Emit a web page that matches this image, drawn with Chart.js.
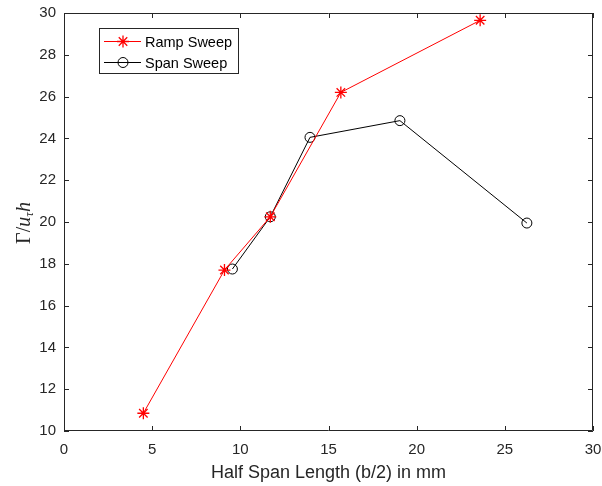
<!DOCTYPE html>
<html>
<head>
<meta charset="utf-8">
<script src="https://cdn.jsdelivr.net/npm/chart.js@4.4.0/dist/chart.umd.min.js"></script>
<style>
  html, body { margin: 0; padding: 0; background: #fff; }
  #wrap { width: 602px; height: 486px; position: relative; }
</style>
</head>
<body>
<div id="wrap"><canvas id="myChart"></canvas></div>
<script>
// données
const rampX = [4.5, 9.1, 11.7, 15.7, 23.6];
const rampY = [10.85, 17.7, 20.25, 26.2, 29.65];
const spanX = [9.55, 11.7, 13.95, 19.05, 26.25];
const spanY = [17.75, 20.25, 24.05, 24.85, 19.95];
const xTicks = [0, 5, 10, 15, 20, 25, 30];
const yTicks = [10, 12, 14, 16, 18, 20, 22, 24, 26, 28, 30];
const seriesNames = ['Ramp Sweep', 'Span Sweep'];
const xTitle = 'Half Span Length (b/2) in mm';

const axisColor = '#262626';
const sansFont = '"Liberation Sans", Arial, sans-serif';
const serifFont = '"Liberation Serif", "DejaVu Serif", serif';

// cadre, petites graduations, légende et titres des axes
const overlay = {
    id: 'overlay',
    afterDraw(chart) {
        const ctx = chart.ctx;
        const a = chart.chartArea;
        const xs = chart.scales.x, ys = chart.scales.y;
        ctx.save();
        ctx.strokeStyle = axisColor;
        ctx.lineWidth = 1;
        ctx.beginPath();
        ctx.rect(a.left + 0.5, a.top + 0.5, a.right - a.left - 1, a.bottom - a.top - 1);
        xTicks.forEach(v => {
            const px = Math.round(xs.getPixelForValue(v)) + 0.5;
            ctx.moveTo(px, a.bottom); ctx.lineTo(px, a.bottom - 5);
            ctx.moveTo(px, a.top); ctx.lineTo(px, a.top + 5);
        });
        yTicks.forEach(v => {
            const py = Math.round(ys.getPixelForValue(v)) + 0.5;
            ctx.moveTo(a.left, py); ctx.lineTo(a.left + 5, py);
            ctx.moveTo(a.right, py); ctx.lineTo(a.right - 5, py);
        });
        ctx.stroke();

        // légende
        const bx = a.left + 35, by = a.top + 15, bw = 139, bh = 45;
        ctx.fillStyle = '#fff';
        ctx.fillRect(bx, by, bw, bh);
        ctx.strokeStyle = '#262626';
        ctx.strokeRect(bx + 0.5, by + 0.5, bw, bh);
        ctx.font = '14.5px ' + sansFont;
        ctx.textBaseline = 'middle';
        seriesNames.forEach((name, i) => {
            const ds = chart.data.datasets[i];
            const ry = by + 13.5 + i * 21;
            ctx.strokeStyle = ds.borderColor;
            ctx.fillStyle = ds.backgroundColor;
            ctx.lineWidth = 1;
            ctx.beginPath();
            ctx.moveTo(bx + 5, ry); ctx.lineTo(bx + 42, ry);
            ctx.stroke();
            ctx.lineWidth = ds.pointBorderWidth;
            Chart.helpers.drawPoint(ctx, {
                pointStyle: ds.pointStyle, radius: ds.pointRadius,
                borderWidth: ds.pointBorderWidth, rotation: 0
            }, bx + 24, ry);
            ctx.fillStyle = '#000';
            ctx.fillText(name, bx + 46, ry + 1);
        });

        // titre de l'axe x
        ctx.fillStyle = axisColor;
        ctx.font = '18px ' + sansFont;
        ctx.textAlign = 'center';
        ctx.textBaseline = 'alphabetic';
        ctx.fillText(xTitle, (a.left + a.right) / 2, 478);

        // titre de l'axe y : Γ/u_τ h
        ctx.textAlign = 'left';
        ctx.translate(24, (a.top + a.bottom) / 2 + 1);
        ctx.rotate(-Math.PI / 2);
        const parts = [
            ['Γ/', '20px ' + serifFont, 0],
            ['u', 'italic 20px ' + serifFont, 0],
            ['τ', 'italic 13px ' + serifFont, 3],
            ['h', 'italic 20px ' + serifFont, 0]
        ];
        let total = 0;
        parts.forEach(p => { ctx.font = p[1]; total += ctx.measureText(p[0]).width; });
        let cx = -total / 2;
        parts.forEach(p => {
            ctx.font = p[1];
            ctx.fillText(p[0], cx, 6 + p[2]);
            cx += ctx.measureText(p[0]).width;
        });
        ctx.restore();
    }
};

document.addEventListener('DOMContentLoaded', function() {
    const ctx = document.getElementById('myChart').getContext('2d');

    new Chart(ctx, {
        type: 'line',
        data: {
            datasets: [{
                label: seriesNames[0],
                data: rampX.map((x, i) => ({ x: x, y: rampY[i] })),
                borderColor: '#ff0000',
                backgroundColor: '#ff0000',
                borderWidth: 1,
                pointStyle: 'star',
                pointRadius: 6,
                pointBorderWidth: 1.3,
                tension: 0
            }, {
                label: seriesNames[1],
                data: spanX.map((x, i) => ({ x: x, y: spanY[i] })),
                borderColor: '#000000',
                backgroundColor: 'rgba(0,0,0,0)',
                borderWidth: 1,
                pointStyle: 'circle',
                pointRadius: 5,
                pointBorderWidth: 1,
                tension: 0
            }]
        },
        options: {
            responsive: true,
            maintainAspectRatio: false,
            animation: false,
            layout: { padding: { top: 13, right: 9, left: 0, bottom: 0 } },
            plugins: {
                legend: { display: false },
                tooltip: { enabled: false }
            },
            scales: {
                x: {
                    type: 'linear',
                    min: 0, max: 30,
                    afterBuildTicks: s => { s.ticks = xTicks.map(v => ({ value: v })); },
                    afterFit: s => { s.height = 55; s.paddingLeft = 0; s.paddingRight = 0; },
                    grid: { display: false, drawTicks: false },
                    border: { display: false },
                    ticks: {
                        color: axisColor,
                        font: { family: sansFont, size: 15 },
                        padding: 10
                    }
                },
                y: {
                    type: 'linear',
                    min: 10, max: 30,
                    afterBuildTicks: s => { s.ticks = yTicks.map(v => ({ value: v })); },
                    afterFit: s => { s.width = 64; s.paddingTop = 0; s.paddingBottom = 0; },
                    grid: { display: false, drawTicks: false },
                    border: { display: false },
                    ticks: {
                        color: axisColor,
                        font: { family: sansFont, size: 15 },
                        padding: 8
                    }
                }
            }
        },
        plugins: [overlay]
    });
});
</script>
</body>
</html>
